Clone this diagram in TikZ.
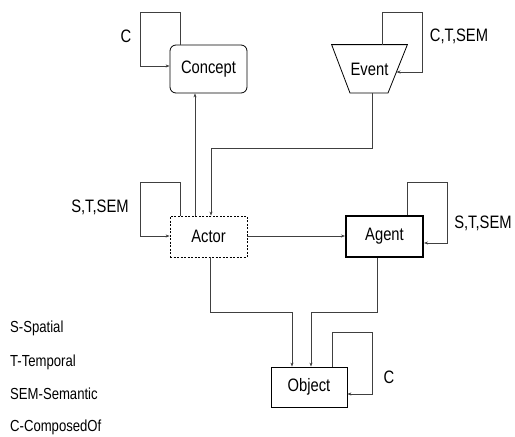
\documentclass[tikz,border=0pt]{standalone}
\usepackage{fontspec}
\setmainfont{Liberation Sans}[FakeStretch=0.82]
\usetikzlibrary{shapes.geometric,arrows.meta}
\begin{document}
\begin{tikzpicture}[x=1pt,y=-1pt,
  conn/.style={draw=black!75,line width=0.7pt},
  arr/.style={conn,-{Stealth[length=4pt,width=3pt]}},
  box/.style={draw=black,line width=0.8pt,inner sep=0pt,font=\fontsize{18}{20}\selectfont},
  lab/.style={inner sep=0pt,font=\fontsize{18}{20}\selectfont},
  leg/.style={inner sep=0pt,anchor=west,font=\fontsize{16}{18}\selectfont}]
\useasboundingbox (0,0) rectangle (515,437);
% nodes
\node[box,rounded corners=6pt,minimum width=77pt,minimum height=48pt] (concept) at (208.5,69) {Concept};
\node[box,draw=none,minimum width=75pt,minimum height=48pt] (event) at (369.5,69) {Event};
\draw[black,line width=0.8pt] (event.north west) -- (event.north east) -- (388,93) -- (350,93) -- cycle;
\node[box,dashed,dash pattern=on 2pt off 1.5pt,minimum width=77pt,minimum height=41pt] (actor) at (208.5,236.5) {Actor};
\node[box,line width=2pt,minimum width=77pt,minimum height=41pt] (agent) at (384.5,236.5) {Agent};
\node[box,minimum width=76pt,minimum height=40pt] (object) at (309,387) {Object};
% labels
\node[lab] (lc) at (126,36) {C};
\node[lab] (lev) at (459,36) {C,T,SEM};
\node[lab] (lac) at (100,207) {S,T,SEM};
\node[lab] (lag) at (483,223) {S,T,SEM};
\node[lab] (lob) at (389,377) {C};
\node[leg] (l1) at (10,328) {S-Spatial};
\node[leg] (l2) at (10,362) {T-Temporal};
\node[leg] (l3) at (10,394) {SEM-Semantic};
\node[leg] (l4) at (10,427) {C-ComposedOf};
% self loops
\draw[arr] (concept.north -| 180,0) -- (180,12) -- (140,12) -- (140,66) -- (concept.west |- 0,66);
\draw[arr] (event.north -| 382,0) -- (382,12) -- (422,12) -- (422,72) -- (396.5,72);
\draw[arr] (actor.north -| 180,0) -- (180,182) -- (140,182) -- (140,236) -- (actor.west |- 0,236);
\draw[arr] (agent.north -| 407,0) -- (407,182) -- (447,182) -- (447,243) -- (agent.east |- 0,243);
\draw[arr] (object.north -| 332,0) -- (332,332) -- (372,332) -- (372,394) -- (object.east |- 0,394);
% connectors
\draw[arr] (actor.north -| 195,0) -- (concept.south -| 195,0);
\draw[arr] (event.south -| 372,0) -- (372,148) -- (211,148) -- (actor.north -| 211,0);
\draw[arr] (actor.east |- 0,236) -- (agent.west |- 0,236);
\draw[arr] (actor.south -| 210,0) -- (210,312) -- (292,312) -- (object.north -| 292,0);
\draw[arr] (agent.south -| 377,0) -- (377,312) -- (311,312) -- (object.north -| 311,0);
\end{tikzpicture}
\end{document}
